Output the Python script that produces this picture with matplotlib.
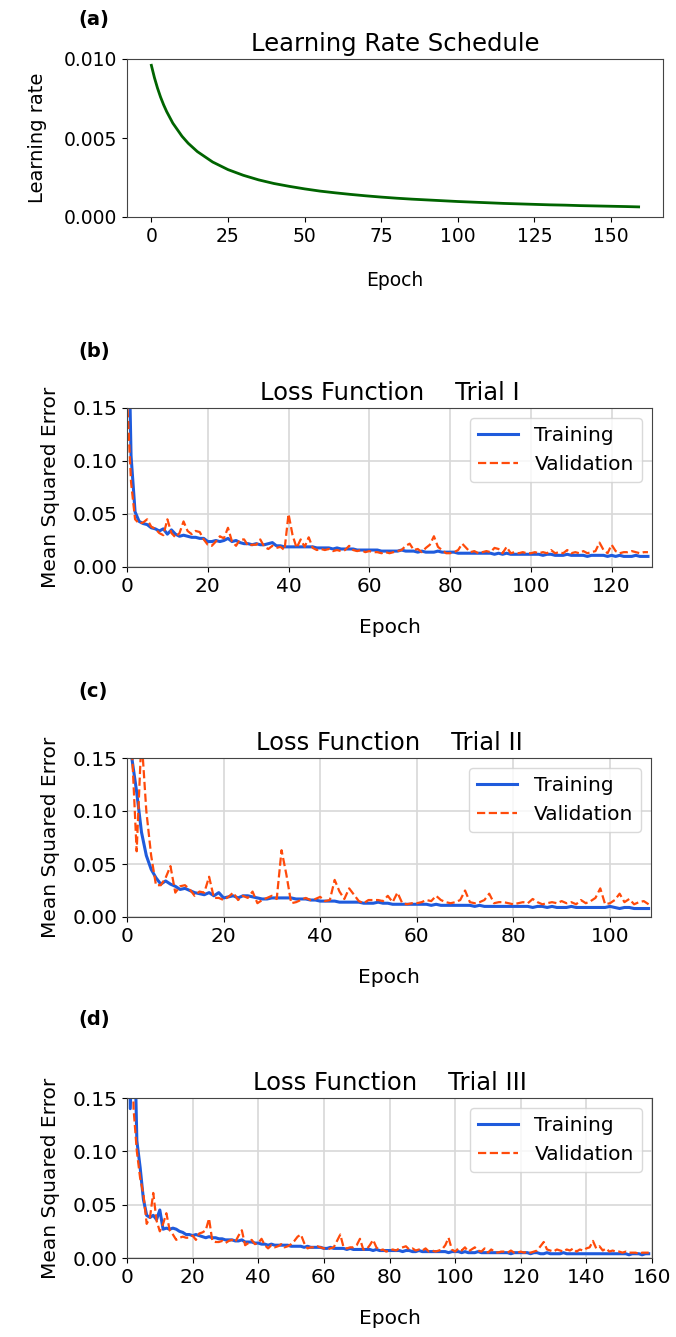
import numpy as np
import matplotlib.pyplot as plt

# learning rate schedule (a)
lr_epoch = [0, 1, 2, 3, 4, 5, 7, 10, 12, 15, 20, 25, 30, 35, 40, 45, 50, 55, 60, 65, 70, 75,
            80, 85, 90, 95, 100, 105, 110, 115, 120, 125, 130, 135, 140, 145, 150, 155, 159]
lr_value = [0.0096, 0.00882, 0.00816, 0.00759, 0.0071, 0.00667, 0.00594, 0.00511, 0.00467,
            0.00414, 0.00348, 0.00300, 0.00264, 0.00235, 0.00212, 0.00194, 0.00178, 0.00164,
            0.00153, 0.00143, 0.00134, 0.00126, 0.00119, 0.00113, 0.00108, 0.00103, 0.00098,
            0.00094, 0.00090, 0.00086, 0.00083, 0.00080, 0.00077, 0.00075, 0.00072, 0.00070,
            0.00068, 0.00066, 0.00064]

# Trial I (b)
train_1 = [0.30, 0.105, 0.052, 0.043, 0.041, 0.040, 0.037, 0.036, 0.034, 0.036,
           0.031, 0.035, 0.031, 0.029, 0.030, 0.029, 0.028, 0.028, 0.027, 0.027,
           0.024, 0.024, 0.025, 0.024, 0.025, 0.027, 0.024, 0.025, 0.023, 0.022,
           0.022, 0.021, 0.022, 0.021, 0.021, 0.022, 0.023, 0.020, 0.020, 0.019,
           0.019, 0.019, 0.019, 0.019, 0.019, 0.019, 0.019, 0.018, 0.018, 0.018,
           0.018, 0.017, 0.018, 0.017, 0.017, 0.017, 0.017, 0.016, 0.016, 0.016,
           0.016, 0.016, 0.016, 0.015, 0.015, 0.015, 0.015, 0.015, 0.016, 0.015,
           0.015, 0.015, 0.014, 0.015, 0.014, 0.014, 0.014, 0.015, 0.014, 0.014,
           0.014, 0.014, 0.013, 0.013, 0.013, 0.013, 0.013, 0.013, 0.013, 0.013,
           0.013, 0.012, 0.013, 0.012, 0.013, 0.012, 0.012, 0.012, 0.012, 0.012,
           0.012, 0.012, 0.012, 0.011, 0.012, 0.012, 0.011, 0.011, 0.011, 0.012,
           0.011, 0.011, 0.011, 0.011, 0.010, 0.011, 0.011, 0.011, 0.011, 0.010,
           0.011, 0.010, 0.011, 0.010, 0.010, 0.010, 0.011, 0.010, 0.010, 0.010]
val_1 = [0.16, 0.080, 0.045, 0.041, 0.042, 0.045, 0.038, 0.036, 0.032, 0.030,
         0.045, 0.032, 0.028, 0.032, 0.043, 0.034, 0.031, 0.034, 0.033, 0.026,
         0.021, 0.020, 0.024, 0.029, 0.027, 0.037, 0.024, 0.020, 0.026, 0.026,
         0.020, 0.021, 0.021, 0.026, 0.019, 0.017, 0.020, 0.018, 0.019, 0.016,
         0.050, 0.030, 0.018, 0.026, 0.019, 0.028, 0.018, 0.016, 0.017, 0.016,
         0.017, 0.015, 0.016, 0.015, 0.016, 0.020, 0.016, 0.015, 0.016, 0.014,
         0.015, 0.014, 0.014, 0.013, 0.014, 0.013, 0.014, 0.015, 0.016, 0.020,
         0.022, 0.016, 0.017, 0.014, 0.018, 0.021, 0.029, 0.019, 0.016, 0.013,
         0.013, 0.014, 0.016, 0.022, 0.018, 0.014, 0.015, 0.013, 0.014, 0.015,
         0.014, 0.018, 0.017, 0.013, 0.019, 0.013, 0.014, 0.013, 0.014, 0.013,
         0.013, 0.014, 0.013, 0.014, 0.013, 0.016, 0.013, 0.014, 0.013, 0.016,
         0.013, 0.014, 0.013, 0.015, 0.013, 0.014, 0.015, 0.023, 0.016, 0.013,
         0.021, 0.015, 0.013, 0.014, 0.014, 0.015, 0.014, 0.013, 0.014, 0.014]

# Trial II (c)
train_2 = [0.25, 0.15, 0.118, 0.080, 0.058, 0.045, 0.037, 0.031, 0.034, 0.031,
           0.029, 0.026, 0.027, 0.025, 0.023, 0.022, 0.021, 0.023, 0.020, 0.023,
           0.018, 0.019, 0.020, 0.018, 0.020, 0.020, 0.019, 0.018, 0.017, 0.017,
           0.018, 0.018, 0.018, 0.018, 0.018, 0.017, 0.017, 0.017, 0.016, 0.016,
           0.015, 0.015, 0.015, 0.015, 0.014, 0.014, 0.014, 0.014, 0.014, 0.013,
           0.013, 0.013, 0.014, 0.013, 0.013, 0.012, 0.012, 0.012, 0.012, 0.012,
           0.012, 0.012, 0.012, 0.011, 0.012, 0.011, 0.011, 0.011, 0.011, 0.011,
           0.011, 0.011, 0.010, 0.011, 0.010, 0.010, 0.010, 0.010, 0.010, 0.010,
           0.010, 0.010, 0.010, 0.010, 0.009, 0.010, 0.010, 0.009, 0.010, 0.009,
           0.009, 0.009, 0.010, 0.009, 0.009, 0.009, 0.009, 0.009, 0.009, 0.009,
           0.010, 0.009, 0.008, 0.009, 0.009, 0.008, 0.008, 0.008, 0.008]
val_2 = [0.30, 0.16, 0.062, 0.17, 0.10, 0.058, 0.030, 0.030, 0.037, 0.048,
         0.023, 0.029, 0.030, 0.026, 0.020, 0.024, 0.023, 0.038, 0.018, 0.018,
         0.016, 0.019, 0.023, 0.016, 0.020, 0.018, 0.024, 0.013, 0.016, 0.018,
         0.020, 0.017, 0.063, 0.040, 0.013, 0.014, 0.016, 0.018, 0.016, 0.017,
         0.019, 0.015, 0.016, 0.035, 0.024, 0.017, 0.027, 0.021, 0.015, 0.013,
         0.016, 0.016, 0.016, 0.015, 0.020, 0.014, 0.023, 0.013, 0.012, 0.013,
         0.013, 0.014, 0.016, 0.015, 0.020, 0.016, 0.014, 0.013, 0.014, 0.016,
         0.025, 0.014, 0.013, 0.014, 0.016, 0.022, 0.013, 0.014, 0.014, 0.013,
         0.012, 0.013, 0.014, 0.013, 0.017, 0.014, 0.012, 0.013, 0.014, 0.013,
         0.015, 0.013, 0.014, 0.012, 0.016, 0.013, 0.015, 0.018, 0.027, 0.012,
         0.013, 0.016, 0.022, 0.014, 0.017, 0.012, 0.014, 0.015, 0.012]

# Trial III (d)
train_3 = [0.50, 0.14, 0.25, 0.11, 0.085, 0.055, 0.040, 0.038, 0.040, 0.036,
           0.045, 0.027, 0.028, 0.027, 0.028, 0.027, 0.025, 0.024, 0.022, 0.022,
           0.021, 0.022, 0.021, 0.020, 0.019, 0.020, 0.019, 0.019, 0.018, 0.018,
           0.017, 0.017, 0.017, 0.016, 0.016, 0.017, 0.015, 0.015, 0.015, 0.014,
           0.014, 0.013, 0.013, 0.012, 0.013, 0.012, 0.012, 0.012, 0.012, 0.012,
           0.011, 0.011, 0.011, 0.011, 0.010, 0.011, 0.010, 0.010, 0.010, 0.010,
           0.009, 0.009, 0.010, 0.009, 0.009, 0.009, 0.009, 0.008, 0.009, 0.008,
           0.008, 0.008, 0.008, 0.008, 0.008, 0.007, 0.008, 0.007, 0.007, 0.007,
           0.007, 0.007, 0.007, 0.007, 0.006, 0.007, 0.007, 0.006, 0.006, 0.007,
           0.006, 0.006, 0.006, 0.006, 0.006, 0.006, 0.006, 0.006, 0.005, 0.006,
           0.006, 0.006, 0.005, 0.006, 0.005, 0.005, 0.005, 0.006, 0.005, 0.005,
           0.005, 0.005, 0.005, 0.005, 0.005, 0.005, 0.005, 0.004, 0.005, 0.005,
           0.005, 0.005, 0.005, 0.004, 0.005, 0.005, 0.004, 0.004, 0.005, 0.004,
           0.004, 0.004, 0.004, 0.005, 0.004, 0.004, 0.004, 0.004, 0.004, 0.004,
           0.004, 0.004, 0.004, 0.004, 0.004, 0.004, 0.004, 0.004, 0.004, 0.004,
           0.004, 0.004, 0.004, 0.003, 0.004, 0.004, 0.004, 0.003, 0.004, 0.004]
val_3 = [0.50, 0.30, 0.14, 0.10, 0.075, 0.060, 0.032, 0.038, 0.061, 0.035,
         0.025, 0.032, 0.042, 0.026, 0.022, 0.017, 0.019, 0.020, 0.019, 0.019,
         0.021, 0.017, 0.023, 0.024, 0.026, 0.037, 0.016, 0.015, 0.015, 0.016,
         0.014, 0.016, 0.017, 0.015, 0.021, 0.026, 0.012, 0.014, 0.017, 0.013,
         0.014, 0.018, 0.012, 0.009, 0.012, 0.010, 0.011, 0.013, 0.010, 0.011,
         0.013, 0.016, 0.020, 0.022, 0.014, 0.009, 0.010, 0.010, 0.011, 0.010,
         0.009, 0.008, 0.009, 0.010, 0.016, 0.022, 0.010, 0.009, 0.010, 0.010,
         0.012, 0.018, 0.008, 0.008, 0.012, 0.017, 0.010, 0.007, 0.008, 0.006,
         0.007, 0.008, 0.007, 0.009, 0.010, 0.011, 0.008, 0.009, 0.007, 0.008,
         0.007, 0.009, 0.006, 0.007, 0.006, 0.007, 0.008, 0.012, 0.019, 0.008,
         0.006, 0.009, 0.007, 0.010, 0.006, 0.008, 0.010, 0.007, 0.006, 0.009,
         0.005, 0.008, 0.006, 0.005, 0.006, 0.006, 0.005, 0.007, 0.005, 0.005,
         0.006, 0.005, 0.006, 0.005, 0.006, 0.007, 0.011, 0.015, 0.008, 0.007,
         0.006, 0.008, 0.007, 0.006, 0.008, 0.007, 0.009, 0.006, 0.008, 0.007,
         0.009, 0.010, 0.016, 0.009, 0.011, 0.007, 0.009, 0.006, 0.007, 0.006,
         0.006, 0.005, 0.006, 0.005, 0.005, 0.005, 0.004, 0.005, 0.005, 0.005]

W, H = 676, 1337
fig = plt.figure(figsize=(W / 100, H / 100), dpi=100)

def box(left, top, right, bottom):
    return [left / W, 1 - bottom / H, (right - left) / W, (bottom - top) / H]

blue = '#1f5bdc'
red = '#ff4a0a'

# (a) learning rate
ax = fig.add_axes(box(127, 59, 663, 217))
ax.plot(lr_epoch, lr_value, color='#006400', lw=2)
ax.set_ylim(0, 0.010)
ax.set_yticks([0.0, 0.005, 0.010])
ax.set_xticks([0, 25, 50, 75, 100, 125, 150])
ax.tick_params(labelsize=13.5)
ax.set_title('Learning Rate Schedule', fontsize=17.5)
ax.set_xlabel('Epoch', fontsize=13.5, labelpad=18)
ax.set_ylabel('Learning rate', fontsize=14, labelpad=12)
for s in ax.spines.values():
    s.set_color('#444444')
fig.text(78 / W, 1 - 19 / H, '(a)', fontsize=14, fontweight='bold', va='center')

panels = [
    ('(b)', 352, (408, 567, 652), train_1, val_1, 130, [0, 20, 40, 60, 80, 100, 120], 'Trial I'),
    ('(c)', 692, (758, 917, 651), train_2, val_2, 108.5, [0, 20, 40, 60, 80, 100], 'Trial II'),
    ('(d)', 1020, (1098, 1258, 652), train_3, val_3, 160, [0, 20, 40, 60, 80, 100, 120, 140, 160], 'Trial III'),
]

for tag, tag_y, (top, bottom, right), tr, va, xmax, xt, trial in panels:
    ax = fig.add_axes(box(127, top, right, bottom))
    ax.grid(True, color='#d8d8d8', lw=1.2)
    ax.set_axisbelow(True)
    ax.plot(np.arange(len(tr)), tr, color=blue, lw=2.2, label='Training')
    ax.plot(np.arange(len(va)), va, color=red, lw=1.6, ls='--', label='Validation')
    ax.set_xlim(0, xmax)
    ax.set_ylim(0, 0.15)
    ax.set_yticks([0.0, 0.05, 0.10, 0.15])
    ax.set_yticklabels(['0.00', '0.05', '0.10', '0.15'])
    ax.set_xticks(xt)
    ax.tick_params(labelsize=14.5)
    ax.set_title('Loss Function    ' + trial, fontsize=17.5)
    ax.set_xlabel('Epoch', fontsize=14.5, labelpad=16)
    ax.set_ylabel('Mean Squared Error', fontsize=14.5, labelpad=9)
    for s in ax.spines.values():
        s.set_color('#444444')
    ax.legend(loc='upper right', fontsize=14.5, edgecolor='#d0d0d0')
    fig.text(78 / W, 1 - tag_y / H, tag, fontsize=14, fontweight='bold', va='center')

fig.savefig('out.png', dpi=100)
